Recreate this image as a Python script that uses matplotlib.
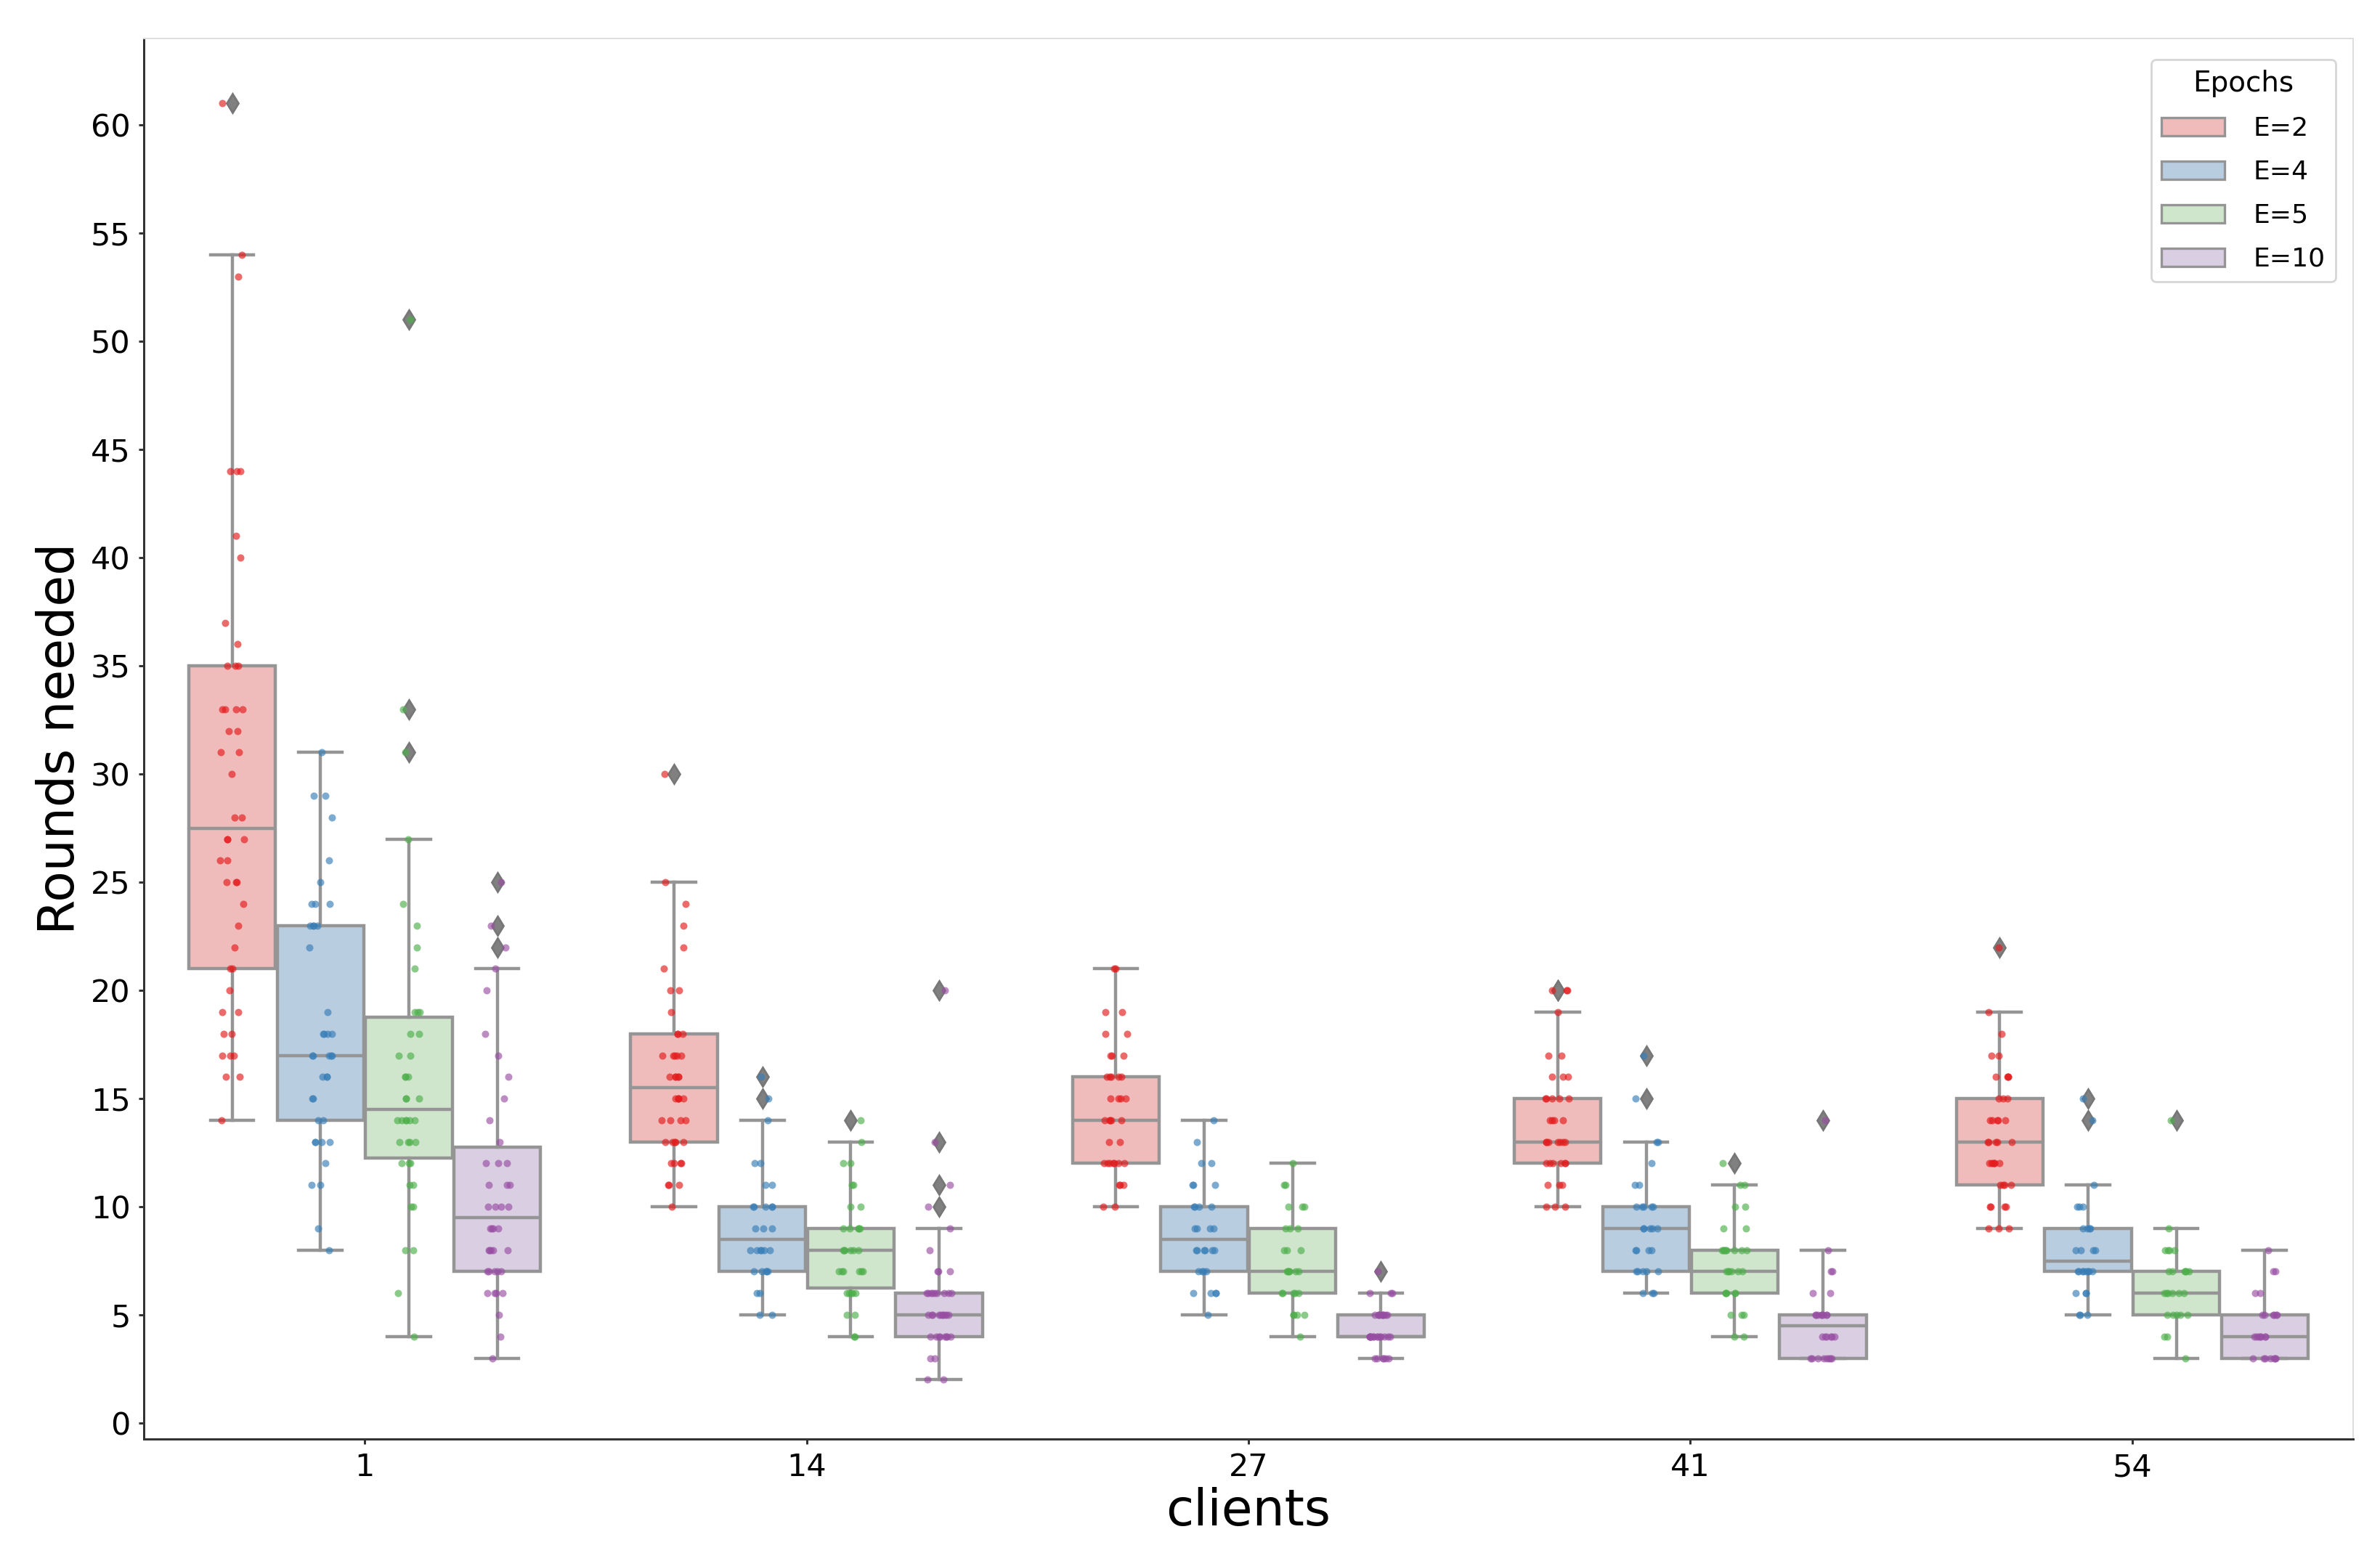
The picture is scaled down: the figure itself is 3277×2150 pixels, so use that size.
import numpy as np
import matplotlib
matplotlib.use("Agg")
import matplotlib.pyplot as plt
from matplotlib.patches import Patch

# ---------------- data ----------------
clients = ["1", "14", "27", "41", "54"]
epochs = ["E=2", "E=4", "E=5", "E=10"]

c1_e2 = [14, 16, 16, 17, 17, 17, 18, 18, 19, 19, 20, 21, 21, 22, 23, 24, 25, 25, 25, 26, 26,
         27, 27, 27, 28, 28, 30, 31, 31, 32, 32, 33, 33, 33, 33, 35, 35, 35, 36, 37, 40, 41,
         44, 44, 44, 53, 54, 61]
c1_e4 = [8, 9, 11, 11, 12, 13, 13, 13, 13, 14, 14, 15, 15, 16, 16, 16, 17, 17, 17, 17, 17,
         18, 18, 18, 18, 19, 22, 23, 23, 23, 23, 24, 24, 24, 25, 26, 28, 29, 29, 31]
c1_e5 = [4, 6, 8, 8, 10, 10, 11, 11, 12, 12, 12, 13, 13, 13, 13, 14, 14, 14, 14, 14, 14,
         15, 15, 15, 16, 16, 16, 17, 17, 18, 18, 19, 19, 19, 21, 22, 23, 24, 27, 31, 33, 51]
c1_e10 = [3, 4, 5, 6, 6, 6, 6, 7, 7, 7, 7, 7, 8, 8, 8, 8, 8, 9, 9, 9, 9, 10, 10, 10, 10,
          11, 11, 11, 12, 12, 12, 13, 14, 15, 16, 17, 18, 20, 21, 22, 23, 25]

c14_e2 = [10, 11, 11, 11, 12, 12, 12, 12, 13, 13, 13, 13, 13, 14, 14, 14, 14, 15, 15, 15, 15,
          15, 16, 16, 16, 16, 16, 17, 17, 17, 17, 17, 18, 18, 18, 19, 20, 20, 21, 22, 23, 24,
          25, 30]
c14_e4 = [5, 5, 6, 6, 7, 7, 7, 7, 7, 8, 8, 8, 8, 8, 8, 9, 9, 9, 10, 10, 10, 10, 10, 11, 11,
          12, 12, 14, 15, 16]
c14_e5 = [4, 4, 5, 5, 6, 6, 6, 6, 6, 7, 7, 7, 7, 7, 7, 8, 8, 8, 8, 8, 8, 9, 9, 9, 9, 9,
          10, 10, 11, 11, 12, 12, 13, 14]
c14_e10 = [2, 2, 3, 3, 4, 4, 4, 4, 4, 4, 4, 4, 5, 5, 5, 5, 5, 5, 5, 5, 5, 5, 6, 6, 6, 6, 6,
           6, 6, 6, 6, 7, 7, 7, 8, 9, 10, 11, 13, 20]

c27_e2 = [10, 10, 11, 11, 11, 12, 12, 12, 12, 12, 12, 12, 13, 13, 14, 14, 14, 14, 14, 15, 15,
          15, 15, 16, 16, 16, 16, 16, 17, 17, 17, 18, 18, 19, 19, 21, 21]
c27_e4 = [5, 6, 6, 6, 6, 7, 7, 7, 7, 8, 8, 8, 8, 8, 8, 9, 9, 9, 9, 10, 10, 10, 10, 11, 11, 11,
          12, 12, 13, 14]
c27_e5 = [4, 5, 5, 5, 5, 6, 6, 6, 6, 6, 7, 7, 7, 7, 7, 7, 8, 8, 8, 9, 9, 9, 10, 10, 10, 11,
          11, 12]
c27_e10 = [3, 3, 3, 3, 3, 3, 4, 4, 4, 4, 4, 4, 4, 4, 4, 4, 4, 4, 4, 4, 5, 5, 5, 5, 5, 5, 5,
           5, 5, 5, 6, 6, 6, 7]

c41_e2 = [10, 10, 10, 11, 11, 11, 12, 12, 12, 12, 12, 12, 13, 13, 13, 13, 13, 13, 13, 14, 14,
          14, 14, 15, 15, 15, 15, 15, 16, 16, 16, 17, 17, 19, 20, 20, 20]
c41_e4 = [6, 6, 6, 7, 7, 7, 7, 7, 8, 8, 8, 8, 9, 9, 9, 9, 9, 10, 10, 10, 10, 10, 11, 11, 12,
          13, 13, 15, 17]
c41_e5 = [4, 4, 5, 5, 5, 6, 6, 6, 6, 6, 7, 7, 7, 7, 7, 7, 8, 8, 8, 8, 8, 8, 8, 8, 9, 9, 10,
          10, 11, 11, 12]
c41_e10 = [3, 3, 3, 3, 3, 3, 3, 3, 4, 4, 4, 4, 4, 4, 5, 5, 5, 5, 5, 5, 5, 5, 6, 6, 7, 7, 8, 14]

c54_e2 = [9, 9, 9, 10, 10, 10, 10, 11, 11, 11, 11, 12, 12, 12, 12, 12, 12, 13, 13, 13, 13, 13,
          14, 14, 14, 14, 14, 15, 15, 15, 16, 16, 16, 16, 17, 17, 18, 19, 22]
c54_e4 = [5, 5, 5, 6, 6, 6, 7, 7, 7, 7, 7, 7, 7, 7, 8, 8, 8, 8, 9, 9, 9, 9, 10, 10, 10, 11,
          14, 15]
c54_e5 = [3, 4, 4, 5, 5, 5, 5, 5, 6, 6, 6, 6, 6, 6, 7, 7, 7, 7, 7, 7, 8, 8, 8, 8, 9, 14]
c54_e10 = [3, 3, 3, 3, 3, 3, 3, 4, 4, 4, 4, 4, 4, 4, 5, 5, 5, 5, 5, 5, 6, 6, 7, 7, 8]

rounds = [
    [c1_e2, c1_e4, c1_e5, c1_e10],
    [c14_e2, c14_e4, c14_e5, c14_e10],
    [c27_e2, c27_e4, c27_e5, c27_e10],
    [c41_e2, c41_e4, c41_e5, c41_e10],
    [c54_e2, c54_e4, c54_e5, c54_e10],
]

# ---------------- style ----------------
point_colors = ["#e41a1c", "#377eb8", "#4daf4a", "#984ea3"]
face_colors = ["#f0bbbb", "#b9cde0", "#cfe6cc", "#dacee2"]
line_gray = "#959595"
lw = 1.6

fig = plt.figure(figsize=(16.385, 10.75), dpi=200)
ax = fig.add_axes([0.0604, 0.0781, 0.9283, 0.8972])

n_hue = len(epochs)
hue_w = 0.8 / n_hue
rng = np.random.default_rng(3)

for gi in range(len(clients)):
    for hj in range(n_hue):
        vals = np.asarray(rounds[gi][hj], dtype=float)
        pos = gi - 0.4 + hue_w * (hj + 0.5)
        ax.boxplot(
            [vals], positions=[pos], widths=hue_w * 0.98, patch_artist=True,
            whis=1.5, manage_ticks=False, zorder=2,
            boxprops=dict(facecolor=face_colors[hj], edgecolor=line_gray, linewidth=lw),
            medianprops=dict(color=line_gray, linewidth=lw),
            whiskerprops=dict(color=line_gray, linewidth=lw),
            capprops=dict(color=line_gray, linewidth=lw),
            flierprops=dict(marker="d", markerfacecolor="#808080",
                            markeredgecolor="#777777", markersize=6.5, linestyle="none"),
        )
        jit = rng.uniform(-0.028, 0.028, size=len(vals))
        ax.scatter(pos + jit, vals, s=13, color=point_colors[hj], alpha=0.65,
                   linewidths=0, zorder=3)

ax.set_xlim(-0.5, len(clients) - 0.5)
ax.set_ylim(-0.74, 64.0)
ax.set_xticks(range(len(clients)))
ax.set_xticklabels(clients)
ax.set_yticks(np.arange(0, 61, 5))

ax.tick_params(axis="both", labelsize=15.5, length=2.6, width=1.08, color="#333333", pad=4)
ax.set_xlabel("clients", fontsize=25, labelpad=2)
ax.set_ylabel("Rounds needed", fontsize=25, labelpad=3)

for side in ["left", "bottom"]:
    ax.spines[side].set_color("#333333")
    ax.spines[side].set_linewidth(1.08)
for side in ["top", "right"]:
    ax.spines[side].set_color("#dddddd")
    ax.spines[side].set_linewidth(0.7)

handles = [Patch(facecolor=face_colors[i], edgecolor=line_gray, linewidth=1.2, label=epochs[i])
           for i in range(n_hue)]
leg = ax.legend(handles=handles, title="Epochs", loc="upper right", fontsize=13,
                title_fontsize=14, handlelength=2.4, labelspacing=0.72, handletextpad=1.1,
                bbox_to_anchor=(0.9945, 0.989), borderaxespad=0.2)

fig.savefig("out.png", dpi=200)
